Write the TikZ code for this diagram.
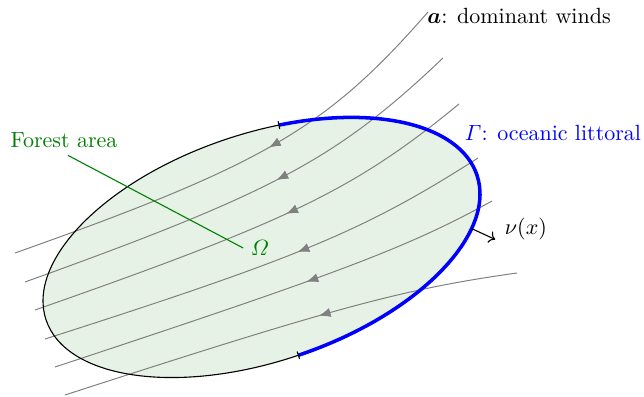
\documentclass[tikz,border=0pt]{standalone}
\usepackage{amsmath}
\usetikzlibrary{arrows.meta,decorations.markings,calc}
\colorlet{forest}{green!50!black}
\tikzset{
  wind/.style={gray, line width=0.45pt, postaction={decorate},
    decoration={markings, mark=at position 0.433 with {\arrow{windtip}}}},
  windtip/.tip={Latex[length=5.4pt,width=4.2pt]},
  coast/.style={blue, line width=1.6pt},
  omegaframe/.style={shift={(261.5,148.5)}, rotate=18.6},
  endbar/.tip={Bar[black,width=3.6pt,line width=0.5pt]},
}
\begin{document}
\begin{tikzpicture}[x=0.4545pt,y=0.4545pt]
\useasboundingbox (0,0) rectangle (644,396);
\begin{scope}[omegaframe]
  \fill[forest!10] (0,0) ellipse [x radius=227.3, y radius=113.9];
\end{scope}
% wind lines, drawn from the right end r to the left end a
\foreach \i/\rx/\ry/\qx/\qy/\px/\py/\ax/\ay in {
  1/428/384/326.8/268/265.2/231.8/15/143,
  2/443/338/337.2/237.4/274.5/203.7/25/114,
  3/459/292/354.8/206.6/291.2/175.7/35/86,
  4/478/238/365.2/165.8/300.3/138.7/45/57,
  5/492/195/407.9/148.7/342.3/123.8/55/29,
  6/517/123/404/107.2/336.2/88.9/65/1}{
  \coordinate (r\i) at (\rx,\ry);
  \coordinate (a\i) at (\ax,\ay);
  \draw[wind] (r\i) .. controls (\qx,\qy) and (\px,\py) .. (a\i);
}
\begin{scope}[omegaframe]
  \draw[black, line width=0.5pt] (0,0) ellipse [x radius=227.3, y radius=113.9];
  \draw[coast, endbar-endbar] (-90:227.3 and 113.9)
     arc[start angle=-90, end angle=76, x radius=227.3, y radius=113.9];
  \coordinate (nstart) at (-25.5:227.3 and 113.9);
  \coordinate (nend) at ($(nstart)+(-43.4:26)$);
\end{scope}
\draw[->, line width=0.5pt] (nstart) -- (nend);
\node[anchor=west] (nu) at ($(nend)+(2,10)$) {$\nu(x)$};
% labels
\node[text=forest] (forestlbl) at (64,256) {Forest area};
\node[text=forest] (omega) at (260,148) {$\varOmega$};
\draw[forest, line width=0.5pt] ($(forestlbl.south)+(4,0)$) -- (omega.west);
\node[text=blue] (gamma) at (553,263) {$\varGamma$: oceanic littoral};
\node (winds) at (519,380) {$\boldsymbol{a}$: dominant winds};
\end{tikzpicture}
\end{document}
